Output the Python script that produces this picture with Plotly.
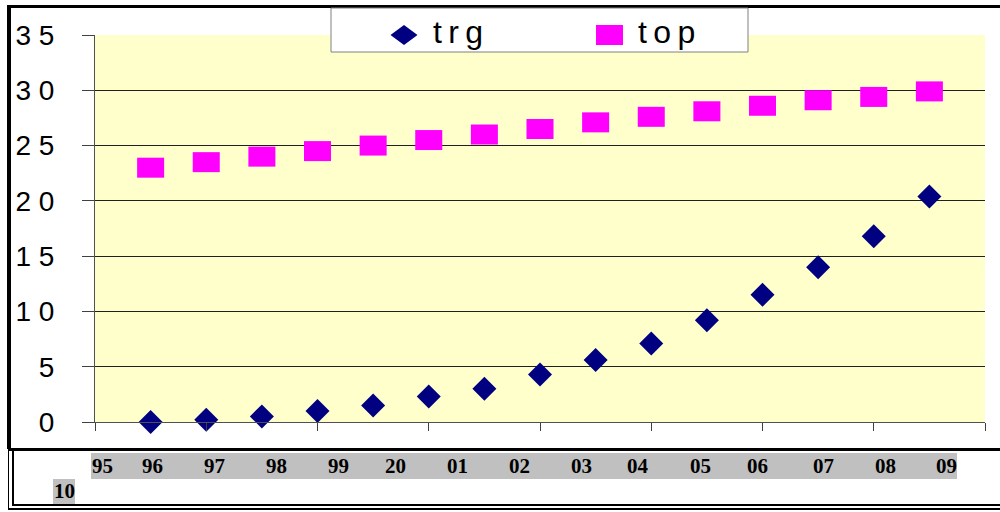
import plotly.graph_objects as go

# ---- data ----
year_labels = ["95", "96", "97", "98", "99", "20", "01", "02", "03", "04",
               "05", "06", "07", "08", "09", "10"]
trg = [0.0, 0.2, 0.5, 1.0, 1.5, 2.3, 3.0, 4.3, 5.6, 7.1, 9.2, 11.5, 14.0, 16.8, 20.4]
top = [23.0, 23.5, 24.0, 24.5, 25.0, 25.5, 26.0, 26.5, 27.1, 27.6, 28.1, 28.6, 29.1, 29.4, 29.9]
y_tickvals = [0, 5, 10, 15, 20, 25, 30, 35]
y_ticktext = ["0", "5", "1 0", "1 5", "2 0", "2 5", "3 0", "3 5"]
x_tickvals = [0, 2, 4, 6, 8, 10, 12, 14, 16]
xpos = list(range(1, len(trg) + 1))

# ---- layout geometry (pixels) ----
W, H = 1000, 512
L, R, T, B = 95, 15, 35, 90
PW, PH = W - L - R, H - T - B


def px(x):
    return (x - L) / PW


def py(y):
    return 1 - (y - T) / PH


NAVY = "#000080"
MAGENTA = "#FF00FF"

fig = go.Figure()
fig.add_trace(go.Scatter(
    x=xpos, y=top, mode="markers", name="top",
    marker=dict(symbol="line-ew", size=19.3, color=MAGENTA,
                line=dict(color=MAGENTA, width=20)),
    showlegend=False, cliponaxis=False))
fig.add_trace(go.Scatter(
    x=xpos, y=trg, mode="markers", name="trg",
    marker=dict(symbol="diamond", size=18.5, color=NAVY, line=dict(width=0)),
    showlegend=False, cliponaxis=False))

shapes = []


def rect_px(x0, y0, x1, y1, fill, line_color=None, line_width=0, layer="above"):
    shapes.append(dict(type="rect", xref="paper", yref="paper",
                       x0=px(x0), x1=px(x1), y0=py(y1), y1=py(y0),
                       fillcolor=fill,
                       line=dict(color=line_color or fill, width=line_width),
                       layer=layer))


# frame
rect_px(7, 5, 1000, 8, "black")          # top border
rect_px(7, 5, 11, 449, "black")          # left border
rect_px(8, 448, 1000, 451, "black")      # chart bottom / lower box top
rect_px(8, 448, 9, 510, "black")         # lower box outer left
rect_px(12, 450, 14, 506, "black")       # lower box inner left
rect_px(12, 504, 1000, 506, "black")     # lower box inner bottom
rect_px(8, 508, 1000, 510, "black")      # lower box outer bottom

# label highlight bands
rect_px(91, 453, 957, 479, "#C0C0C0", layer="below")
rect_px(53, 479, 75, 504, "#C0C0C0", layer="below")

# legend box
rect_px(331, 8, 748, 52, "white", line_color="#808080", line_width=1)
# legend diamond
cx, cy = 404, 35
shapes.append(dict(type="path", xref="paper", yref="paper",
                   path="M {a},{b} L {c},{d} L {a},{e} L {f},{d} Z".format(
                       a=px(cx), b=py(cy - 10), c=px(cx + 13.5), d=py(cy),
                       e=py(cy + 10), f=px(cx - 13.5)),
                   fillcolor=NAVY, line=dict(color=NAVY, width=0), layer="above"))
# legend square
rect_px(596, 25, 623, 45, MAGENTA)

annotations = [
    dict(text="t\u2009r\u2009g", x=px(431), y=py(32), xref="paper", yref="paper",
         xanchor="left", yanchor="middle", showarrow=False,
         font=dict(family="Liberation Sans, Arial", size=32, color="black")),
    dict(text="t\u2009o\u2009p", x=px(636), y=py(32), xref="paper", yref="paper",
         xanchor="left", yanchor="middle", showarrow=False,
         font=dict(family="Liberation Sans, Arial", size=32, color="black")),
]

label_x = [102, 152, 214, 276, 338, 395, 457, 519, 581, 638, 700, 757, 823, 885, 946, 64]
label_y = [466] * 15 + [491]
for lab, lx, ly in zip(year_labels, label_x, label_y):
    annotations.append(dict(text="<b>" + lab + "</b>", x=px(lx), y=py(ly),
                            xref="paper", yref="paper", xanchor="center",
                            yanchor="middle", showarrow=False,
                            font=dict(family="Liberation Serif, Times New Roman",
                                      size=21, color="black")))

fig.update_layout(
    width=W, height=H,
    margin=dict(l=L, r=R, t=T, b=B),
    paper_bgcolor="white", plot_bgcolor="#FFFFCC",
    showlegend=False,
    shapes=shapes, annotations=annotations,
    xaxis=dict(range=[0, 16], tickvals=x_tickvals, showticklabels=False,
               ticks="outside", ticklen=8, tickcolor="#404040", tickwidth=1,
               showline=True, linecolor="#505050", linewidth=1,
               showgrid=False, zeroline=False, fixedrange=True),
    yaxis=dict(range=[0, 35], tickvals=y_tickvals, ticktext=y_ticktext,
               ticks="outside", ticklen=12, tickcolor="#404040", tickwidth=1,
               ticklabelstandoff=22,
               showline=True, linecolor="#505050", linewidth=1,
               showgrid=True, gridcolor="#202020", gridwidth=1,
               zeroline=False, fixedrange=True,
               tickfont=dict(family="Liberation Sans, Arial", size=28, color="black")),
)

fig.write_html("out.html",
               config={"displayModeBar": False},
               post_script="document.body.style.margin='0';document.body.style.overflow='hidden';")
